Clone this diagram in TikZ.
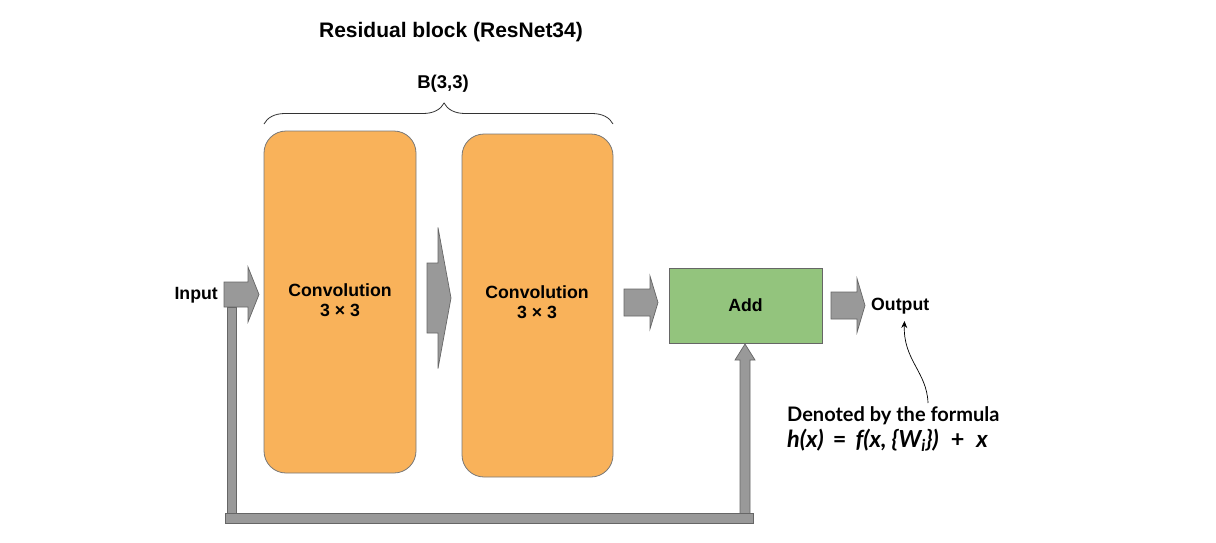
\documentclass[tikz,border=0pt]{standalone}
\usepackage{fontspec}
\setmainfont{Liberation Sans}
\newfontfamily\annfont{Lato}
\usetikzlibrary{decorations.pathreplacing,arrows.meta}
\definecolor{convfill}{RGB}{249,178,90}
\definecolor{addfill}{RGB}{147,196,125}
\definecolor{arrfill}{RGB}{153,153,153}
\definecolor{arrline}{RGB}{102,102,102}
\definecolor{boxline}{RGB}{120,120,120}
\newcommand\myblockarrow[6]{%
  \draw[blockarr] (#1,#4-#5) -- (#2,#4-#5) -- (#2,#4-#6) -- (#3,#4) -- (#2,#4+#6) -- (#2,#4+#5) -- (#1,#4+#5) -- cycle;}
\begin{document}
\begin{tikzpicture}[x=1pt,y=-1pt,
  lbl/.style={font=\bfseries\fontsize{17.7}{20}\selectfont, inner sep=0pt, align=center},
  convbox/.style={draw=boxline, line width=0.8pt, fill=convfill, rounded corners=22pt, inner sep=0pt},
  addbox/.style={draw=arrline, line width=0.8pt, fill=addfill, inner sep=0pt},
  blockarr/.style={draw=arrline, line width=0.7pt, fill=arrfill, line join=miter},
  bracestyle/.style={draw=black!80, line width=0.8pt, decorate, decoration={brace, amplitude=21pt, aspect=0.516}},
  note/.style={font=\annfont\bfseries\fontsize{20}{26}\selectfont, inner sep=0pt, align=left, anchor=base west}
]
\useasboundingbox (0,0) rectangle (1216,542);
\node[lbl, font=\bfseries\fontsize{21}{24}\selectfont] (title) at (451,32) {Residual block (ResNet34)};
\node[lbl, font=\bfseries\fontsize{18.5}{22}\selectfont] (blabel) at (443,84) {B(3,3)};
\coordinate (bl) at (264,124);
\coordinate (br) at (613,124);
\draw[bracestyle] (bl) -- (br);

\node[convbox, minimum width=152pt, minimum height=342pt] (c1) at (340,302) {};
\node[convbox, minimum width=151pt, minimum height=343pt] (c2) at (537.5,305.5) {};
\node[lbl] (c1t) at (340,300) {Convolution\\3 × 3};
\node[lbl] (c2t) at (537,302.5) {Convolution\\3 × 3};
\node[addbox, minimum width=153pt, minimum height=75pt] (add) at (745.5,305.5) {};
\node[lbl] (addt) at (add.center) {Add};
\node[lbl, anchor=east] (input) at (218,295) {Input};
\node[lbl, anchor=west] (output) at (871,306) {Output};

% block arrows
\myblockarrow{224}{248}{259}{294.5}{12.5}{27.5}
\myblockarrow{427}{438}{451}{298}{35}{70.5}
\myblockarrow{624}{650}{658}{302.5}{13.5}{26.5}
\myblockarrow{831}{857}{865}{305.5}{13.5}{27}

% skip connection
\draw[blockarr] (227.5,307) rectangle (236.5,514);
\draw[blockarr] (740,514) -- (740,360) -- (735,360) -- (745,344) -- (755,360) -- (750,360) -- (750,514) -- cycle;
\draw[blockarr] (225,513) rectangle (753,523);

% annotation
\node[note] (n1) at (787,421.5) {Denoted by the formula};
\node[note, font=\annfont\bfseries\fontsize{23.5}{26}\selectfont] (n2) at (787,447.5) {\itshape h(x)\hspace{9pt}\upshape=\hspace{9pt}\itshape f(x, \{W\textsubscript{i}\})\hspace{12pt}\upshape+\hspace{12pt}\itshape x};
\coordinate (ctail) at (928,403);
\coordinate (chead) at (904.5,321);
\draw[black, line width=0.7pt, -{Stealth[length=7pt,width=6pt]}] (ctail) .. controls (927,372) and (903,360) .. (chead);
\end{tikzpicture}
\end{document}
